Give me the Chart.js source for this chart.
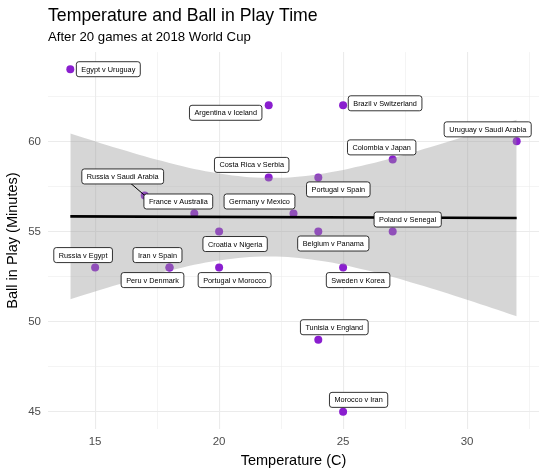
<!DOCTYPE html>
<html>
<head>
<meta charset="utf-8">
<script src="https://cdn.jsdelivr.net/npm/chart.js@4.4.1/dist/chart.umd.min.js"></script>
<style>
  html, body { margin: 0; padding: 0; background: #fff; }
  #wrap { width: 545px; height: 473px; }
</style>
</head>
<body>
<div id="wrap"><canvas id="chart"></canvas></div>
<script>
// Games, temperature (C) and ball in play (minutes)
const games = [
    'Egypt v Uruguay', 'Argentina v Iceland', 'Brazil v Switzerland', 'Uruguay v Saudi Arabia',
    'Colombia v Japan', 'Costa Rica v Serbia', 'Portugal v Spain', 'Russia v Saudi Arabia',
    'France v Australia', 'Germany v Mexico', 'Croatia v Nigeria', 'Belgium v Panama',
    'Poland v Senegal', 'Russia v Egypt', 'Iran v Spain', 'Peru v Denmark',
    'Portugal v Morocco', 'Sweden v Korea', 'Tunisia v England', 'Morocco v Iran'
];
const temperature = [14, 22, 25, 32, 27, 22, 24, 17, 19, 23, 20, 24, 27, 15, 18, 18, 20, 25, 24, 25];
const ballInPlay  = [64, 62, 62, 60, 59, 58, 58, 57, 56, 56, 55, 55, 55, 53, 53, 53, 53, 53, 49, 45];

// Linear fit and its confidence band
const fitX = [14, 32];
const fitY = [55.84, 55.75];
const bandX    = [14, 16, 18, 20, 22, 24, 26, 28, 30, 32];
const bandLow  = [51.25, 52.09, 52.84, 53.40, 53.62, 53.40, 52.84, 52.08, 51.22, 50.30];
const bandHigh = [60.43, 59.57, 58.80, 58.22, 57.98, 58.18, 58.73, 59.47, 60.31, 61.20];

// Axis ticks (major ones carry labels)
const xTicks = [15, 17.5, 20, 22.5, 25, 27.5, 30, 32.5];
const xTickLabels = ['15', '20', '25', '30'];
const yTicks = [45, 47.5, 50, 52.5, 55, 57.5, 60, 62.5];
const yTickLabels = ['45', '50', '55', '60'];

// Where each label box sits relative to its point, in pixels
const labelNudge = [
    [38, 0], [-43, 7.5], [42, -2], [-29, -12], [-11, -12], [-17, -12.5], [20, 12], [-22, -19],
    [-16, -12], [-34, -12], [16, 12.5], [15, 12], [15, -12], [-12, -12.5], [-12, -12.5], [-17, 12.5],
    [15.5, 12.5], [15, 12.5], [16, -12.5], [15.5, -12]
];

const FONT = '"Liberation Sans", Arial, Helvetica, sans-serif';

function isMajor(v) {
    return Math.abs(v % 5) < 1e-9;
}

// Draws the ggrepel-style label boxes
const labelBoxes = {
    id: 'labelBoxes',
    afterDatasetsDraw(chart) {
        const ctx = chart.ctx;
        const xs = chart.scales.x, ys = chart.scales.y;
        ctx.save();
        ctx.font = '7.3px ' + FONT;
        ctx.textAlign = 'center';
        ctx.textBaseline = 'middle';
        games.forEach((name, i) => {
            const px = xs.getPixelForValue(temperature[i]);
            const py = ys.getPixelForValue(ballInPlay[i]);
            const cx = px + labelNudge[i][0];
            const cy = py + labelNudge[i][1];
            const w = ctx.measureText(name).width + 10;
            const h = 15;
            const left = cx - w / 2, top = cy - h / 2;

            // segment only when the box is far from its point
            const dx = Math.max(left - px, 0, px - (left + w));
            const dy = Math.max(top - py, 0, py - (top + h));
            if (Math.hypot(dx, dy) > 8) {
                ctx.strokeStyle = '#000';
                ctx.lineWidth = 1;
                ctx.beginPath();
                ctx.moveTo(px, py);
                ctx.lineTo(cx, cy);
                ctx.stroke();
            }

            ctx.beginPath();
            ctx.roundRect(left, top, w, h, 2.5);
            ctx.fillStyle = '#fff';
            ctx.fill();
            ctx.strokeStyle = '#000';
            ctx.lineWidth = 0.8;
            ctx.stroke();
            ctx.fillStyle = '#000';
            ctx.fillText(name, cx, cy + 0.5);
        });
        ctx.restore();
    }
};

const ctx = document.getElementById('chart').getContext('2d');
const chart = new Chart(ctx, {
    type: 'scatter',
    data: {
        datasets: [
            {
                type: 'line',
                label: 'Fit',
                data: fitX.map((x, i) => ({ x: x, y: fitY[i] })),
                borderColor: '#000',
                borderWidth: 2.6,
                pointRadius: 0,
                fill: false,
                order: 1
            },
            {
                type: 'line',
                label: 'Upper',
                data: bandX.map((x, i) => ({ x: x, y: bandHigh[i] })),
                borderWidth: 0,
                borderColor: 'rgba(0,0,0,0)',
                backgroundColor: 'rgba(153, 153, 153, 0.4)',
                pointRadius: 0,
                tension: 0.4,
                fill: '+1',
                order: 2
            },
            {
                type: 'line',
                label: 'Lower',
                data: bandX.map((x, i) => ({ x: x, y: bandLow[i] })),
                borderWidth: 0,
                borderColor: 'rgba(0,0,0,0)',
                pointRadius: 0,
                tension: 0.4,
                fill: false,
                order: 3
            },
            {
                label: 'Games',
                data: temperature.map((t, i) => ({ x: t, y: ballInPlay[i] })),
                backgroundColor: '#8a1ecf',
                borderWidth: 0,
                pointRadius: 4,
                order: 4
            }
        ]
    },
    options: {
        responsive: true,
        maintainAspectRatio: false,
        animation: false,
        events: [],
        layout: {
            padding: { left: 0, right: 6, top: 0, bottom: 0 }
        },
        scales: {
            x: {
                type: 'linear',
                min: 13.1,
                max: 32.9,
                afterBuildTicks: axis => { axis.ticks = xTicks.map(v => ({ value: v })); },
                afterFit: axis => { axis.height = 44; },
                border: { display: false },
                grid: {
                    color: '#ebebeb',
                    drawTicks: false,
                    lineWidth: c => isMajor(c.tick.value) ? 1.1 : 0.55
                },
                ticks: {
                    autoSkip: false,
                    maxRotation: 0,
                    padding: 6,
                    color: '#4d4d4d',
                    font: { family: FONT, size: 11.5 },
                    callback: v => isMajor(v) ? xTickLabels[(v - 15) / 5] : ''
                },
                title: {
                    display: true,
                    text: 'Temperature (C)',
                    color: '#000',
                    font: { family: FONT, size: 14.5 },
                    padding: { top: 0, bottom: 3 }
                }
            },
            y: {
                type: 'linear',
                min: 44.05,
                max: 64.95,
                afterBuildTicks: axis => { axis.ticks = yTicks.map(v => ({ value: v })); },
                afterFit: axis => { axis.width = 48; },
                border: { display: false },
                grid: {
                    color: '#ebebeb',
                    drawTicks: false,
                    lineWidth: c => isMajor(c.tick.value) ? 1.1 : 0.55
                },
                ticks: {
                    autoSkip: false,
                    padding: 7,
                    color: '#4d4d4d',
                    font: { family: FONT, size: 11.5 },
                    callback: v => isMajor(v) ? yTickLabels[(v - 45) / 5] : ''
                },
                title: {
                    display: true,
                    text: 'Ball in Play (Minutes)',
                    color: '#000',
                    font: { family: FONT, size: 14.5 },
                    padding: { top: 4, bottom: 0 }
                }
            }
        },
        plugins: {
            legend: { display: false },
            tooltip: { enabled: false },
            title: {
                display: true,
                text: 'Temperature and Ball in Play Time',
                align: 'start',
                fullSize: false,
                color: '#000',
                font: { family: FONT, size: 17.7, weight: 'normal' },
                padding: { top: 5, bottom: 2 }
            },
            subtitle: {
                display: true,
                text: 'After 20 games at 2018 World Cup',
                align: 'start',
                fullSize: false,
                color: '#000',
                font: { family: FONT, size: 13.2 },
                padding: { top: 1, bottom: 7 }
            }
        }
    },
    plugins: [labelBoxes]
});
</script>
</body>
</html>
